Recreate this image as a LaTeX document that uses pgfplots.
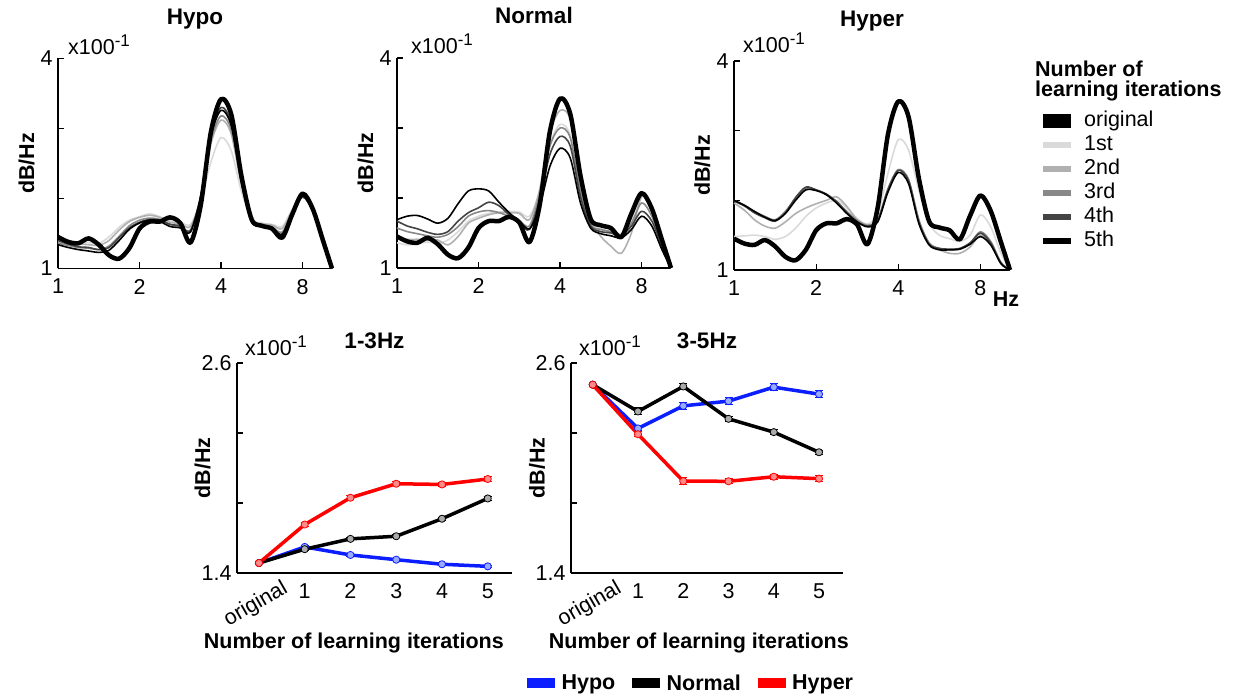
\documentclass[border=0pt]{standalone}
\usepackage{pgfplots}
\pgfplotsset{compat=1.18}
\usepackage{pgfplotstable}
\usepackage{fontspec}
\setmainfont{Liberation Sans}

\definecolor{itA}{HTML}{DADADA}
\definecolor{itB}{HTML}{B0B0B0}
\definecolor{itC}{HTML}{888888}
\definecolor{itD}{HTML}{444444}
\definecolor{hypoc}{HTML}{0A1EFF}
\definecolor{hyperc}{HTML}{FF0000}
\definecolor{hypof}{HTML}{9AAAFF}
\definecolor{hyperf}{HTML}{FF8A8A}
\definecolor{normf}{HTML}{AAAAAA}

\newcommand\fs{\fontsize{21.5}{24}\selectfont}
\newcommand\ft{\fontsize{22.5}{25}\selectfont}

\pgfplotstableread{
hz orig i1 i2 i3 i4 i5
1      1.45 1.37 1.38 1.36 1.40 1.34
1.0905 1.38 1.35 1.36 1.33 1.35 1.30
1.1892 1.36 1.36 1.35 1.30 1.31 1.27
1.2968 1.43 1.37 1.34 1.29 1.30 1.25
1.4142 1.34 1.36 1.33 1.27 1.27 1.23
1.5422 1.19 1.45 1.40 1.32 1.30 1.26
1.6818 1.14 1.59 1.55 1.46 1.44 1.40
1.8340 1.29 1.69 1.67 1.61 1.58 1.56
2      1.57 1.74 1.73 1.69 1.66 1.65
2.1810 1.67 1.78 1.76 1.72 1.70 1.69
2.3784 1.67 1.74 1.73 1.70 1.69 1.67
2.5937 1.73 1.68 1.66 1.63 1.63 1.60
2.8284 1.65 1.66 1.64 1.60 1.61 1.58
3.0844 1.37 1.63 1.60 1.55 1.54 1.52
3.3636 1.90 1.96 2.00 2.02 2.04 2.03
3.6680 2.95 2.52 2.78 2.83 2.92 2.89
4      3.42 2.87 3.12 3.18 3.30 3.26
4.3621 3.20 2.68 2.92 2.98 3.08 3.04
4.7568 2.32 2.10 2.19 2.22 2.26 2.24
5.1874 1.70 1.71 1.70 1.68 1.67 1.67
5.6569 1.61 1.65 1.64 1.62 1.60 1.60
6.1688 1.57 1.63 1.62 1.59 1.56 1.57
6.7272 1.44 1.60 1.57 1.52 1.47 1.49
7.3360 1.78 1.85 1.83 1.80 1.78 1.79
8      2.07 2.06 2.07 2.05 2.02 2.04
8.7241 1.85 1.85 1.86 1.84 1.82 1.83
9.5137 1.40 1.45 1.44 1.43 1.41 1.42
10.27  1.00 1.00 1.00 1.00 1.00 1.00
}\hypotab

\pgfplotstableread{
hz orig i1 i2 i3 i4 i5
1      1.45 1.36 1.45 1.57 1.67 1.69
1.0905 1.38 1.33 1.41 1.52 1.60 1.74
1.1892 1.36 1.35 1.41 1.49 1.56 1.75
1.2968 1.43 1.37 1.40 1.46 1.51 1.70
1.4142 1.34 1.35 1.40 1.44 1.48 1.64
1.5422 1.19 1.40 1.33 1.48 1.52 1.71
1.6818 1.14 1.52 1.45 1.59 1.67 1.92
1.8340 1.29 1.67 1.64 1.74 1.79 2.10
2      1.57 1.74 1.71 1.80 1.86 2.13
2.1810 1.67 1.78 1.76 1.82 1.94 2.10
2.3784 1.67 1.80 1.79 1.79 1.89 1.94
2.5937 1.73 1.81 1.79 1.74 1.76 1.79
2.8284 1.65 1.80 1.78 1.68 1.65 1.67
3.0844 1.37 1.74 1.69 1.60 1.55 1.56
3.3636 1.90 2.10 2.12 2.05 1.98 1.88
3.6680 2.95 2.76 2.93 2.74 2.62 2.45
4      3.42 3.05 3.25 3.00 2.88 2.71
4.3621 3.20 2.90 3.12 2.86 2.74 2.57
4.7568 2.32 2.14 2.26 2.10 2.02 1.93
5.1874 1.70 1.64 1.67 1.62 1.60 1.57
5.6569 1.61 1.56 1.45 1.55 1.52 1.49
6.1688 1.57 1.51 1.31 1.52 1.50 1.46
6.7272 1.44 1.45 1.21 1.48 1.46 1.43
7.3360 1.78 1.69 1.50 1.64 1.60 1.55
8      2.07 2.07 2.02 1.93 1.81 1.74
8.7241 1.85 1.88 1.86 1.74 1.67 1.60
9.5137 1.40 1.40 1.40 1.33 1.31 1.26
10.27  1.00 1.00 1.00 1.00 1.00 1.00
}\normtab

\pgfplotstableread{
hz orig i1 i2 i3 i4 i5
1      1.45 1.48 1.96 2.00 1.99 2.00
1.0905 1.38 1.49 1.86 1.93 1.92 1.93
1.1892 1.36 1.50 1.72 1.84 1.82 1.84
1.2968 1.43 1.48 1.63 1.77 1.75 1.76
1.4142 1.34 1.44 1.60 1.72 1.70 1.71
1.5422 1.19 1.48 1.69 1.84 1.82 1.81
1.6818 1.14 1.60 1.81 2.03 2.04 2.00
1.8340 1.29 1.77 1.89 2.17 2.19 2.15
2      1.57 1.89 1.95 2.15 2.15 2.14
2.1810 1.67 1.96 2.00 2.08 2.09 2.08
2.3784 1.67 2.00 2.05 1.98 1.98 1.96
2.5937 1.73 1.89 1.91 1.84 1.82 1.81
2.8284 1.65 1.74 1.72 1.71 1.69 1.69
3.0844 1.37 1.66 1.65 1.64 1.63 1.62
3.3636 1.90 1.81 1.72 1.72 1.71 1.69
3.6680 2.95 2.39 2.15 2.17 2.15 2.12
4      3.42 2.87 2.44 2.44 2.43 2.40
4.3621 3.20 2.72 2.29 2.30 2.28 2.24
4.7568 2.32 2.15 1.72 1.72 1.69 1.67
5.1874 1.70 1.67 1.38 1.39 1.37 1.36
5.6569 1.61 1.50 1.29 1.31 1.31 1.29
6.1688 1.57 1.45 1.24 1.29 1.30 1.29
6.7272 1.44 1.41 1.24 1.30 1.31 1.30
7.3360 1.78 1.50 1.33 1.38 1.39 1.37
8      2.07 1.79 1.50 1.55 1.53 1.48
8.7241 1.85 1.62 1.38 1.41 1.39 1.36
9.5137 1.40 1.24 1.10 1.11 1.10 1.09
10.27  1.00 1.00 1.00 1.00 1.00 1.00
}\hypertab

\pgfplotsset{
  mycommon/.style={
    scale only axis,
    axis x line*=bottom, axis y line*=left,
    tick align=inside, major tick length=6pt,
    axis line style={line width=1.2pt, black},
    tick style={line width=1.2pt, black},
    tick label style={font=\fs},
    xticklabel style={yshift=-7pt},
    yticklabel style={xshift=-2pt},
    label style={font=\fs\bfseries},
    title style={font=\ft\bfseries, at={(0.5,1)}, anchor=base},
    clip=false,
  },
  mytop/.style={
    mycommon,
    xmin=1, xmax=10.27, ymin=1, ymax=4,
    xtick={1,2,4,8}, xticklabels={1,2,4,8}, xminorticks=false,
    ytick={1,2,3,4}, yticklabels={1,,,4},
    ylabel={dB/Hz},
    ylabel style={at={(axis description cs:-0.115,0.5)}, anchor=center},
    title style={yshift=28pt},
  },
  mybot/.style={
    mycommon,
    xmin=-0.48, xmax=5.53, ymin=1.4, ymax=2.6,
    xtick={0,1,2,3,4,5}, xticklabels={,1,2,3,4,5},
    major x tick style={draw=none},
    ytick={1.4,1.8,2.2,2.6}, yticklabels={1.4,,,2.6},
    ylabel={dB/Hz},
    ylabel style={at={(axis description cs:-0.125,0.5)}, anchor=center},
    xlabel={Number of learning iterations},
    title style={yshift=8pt},
  },
}
\tikzset{
  mythin/.style={line width=1.6pt, smooth, line join=round},
  mythick/.style={line width=4.5pt, smooth, line join=round, black},
}

\begin{document}
\begin{tikzpicture}
\path[use as bounding box] (0,0) rectangle (1235pt,695pt);

% ---------------- Hypo
\begin{axis}[xmode=log, log basis x=2, mytop, width=274pt, height=210pt, at={(58pt,426.5pt)}, anchor=south west, title={Hypo}]
\addplot[mythin, itA, forget plot] table[x=hz,y=i1]{\hypotab};
\addplot[mythin, itB, forget plot] table[x=hz,y=i2]{\hypotab};
\addplot[mythin, itC, forget plot] table[x=hz,y=i3]{\hypotab};
\addplot[mythin, itD, forget plot] table[x=hz,y=i4]{\hypotab};
\addplot[mythin, black, forget plot] table[x=hz,y=i5]{\hypotab};
\addplot[mythick, forget plot] table[x=hz,y=orig]{\hypotab};
\node[anchor=base west, font=\fs, inner sep=0pt] at (rel axis cs:0,1) [xshift=10pt, yshift=4pt] {x100\raisebox{8pt}{\fontsize{17}{17}\selectfont -1}};
\end{axis}

% ---------------- Normal
\begin{axis}[xmode=log, log basis x=2, mytop, width=274pt, height=210pt, at={(397pt,427pt)}, anchor=south west, title={Normal}]
\addplot[mythin, itA, forget plot] table[x=hz,y=i1]{\normtab};
\addplot[mythin, itB, forget plot] table[x=hz,y=i2]{\normtab};
\addplot[mythin, itC, forget plot] table[x=hz,y=i3]{\normtab};
\addplot[mythin, itD, forget plot] table[x=hz,y=i4]{\normtab};
\addplot[mythin, black, forget plot] table[x=hz,y=i5]{\normtab};
\addplot[mythick, forget plot] table[x=hz,y=orig]{\normtab};
\node[anchor=base west, font=\fs, inner sep=0pt] at (rel axis cs:0,1) [xshift=14pt, yshift=4pt] {x100\raisebox{8pt}{\fontsize{17}{17}\selectfont -1}};
\end{axis}

% ---------------- Hyper
\begin{axis}[xmode=log, log basis x=2, mytop, width=276pt, height=209pt, at={(734pt,425pt)}, anchor=south west, title={Hyper},
  legend image code/.code={\draw[#1] (0pt,0pt) -- (28pt,0pt);},
  legend style={draw=none, fill=none, at={(1.094,0.765)}, anchor=north west, font=\fs,
    inner sep=0pt, row sep=3pt, nodes={inner sep=1pt, text height=15pt, text depth=4pt},
    /tikz/every odd column/.append style={column sep=5pt}},
  legend cell align=left]
\addplot[mythin, itA, forget plot] table[x=hz,y=i1]{\hypertab};
\addplot[mythin, itB, forget plot] table[x=hz,y=i2]{\hypertab};
\addplot[mythin, itC, forget plot] table[x=hz,y=i3]{\hypertab};
\addplot[mythin, itD, forget plot] table[x=hz,y=i4]{\hypertab};
\addplot[mythin, black, forget plot] table[x=hz,y=i5]{\hypertab};
\addplot[mythick, forget plot] table[x=hz,y=orig]{\hypertab};
\addlegendimage{line width=14pt, black}\addlegendentry{original}
\addlegendimage{line width=6pt, itA}\addlegendentry{1st}
\addlegendimage{line width=6pt, itB}\addlegendentry{2nd}
\addlegendimage{line width=6pt, itC}\addlegendentry{3rd}
\addlegendimage{line width=6pt, itD}\addlegendentry{4th}
\addlegendimage{line width=6pt, black}\addlegendentry{5th}
\node[anchor=base west, font=\fs, inner sep=0pt] at (rel axis cs:0,1) [xshift=9pt, yshift=8pt] {x100\raisebox{8pt}{\fontsize{17}{17}\selectfont -1}};
\node[font=\fs\bfseries] at (rel axis cs:1,0) [xshift=-4pt, yshift=-29pt] {Hz};
\end{axis}

\node[anchor=base west, font=\fs\bfseries, inner sep=0pt] at (1035pt,598pt) {learning iterations};
\node[anchor=base west, font=\fs\bfseries, inner sep=0pt] at (1035pt,618pt) {Number of};

% ---------------- 1-3Hz
\begin{axis}[mybot, width=275pt, height=210pt, at={(237pt,122pt)}, anchor=south west, title={1-3Hz},
  xlabel style={at={(axis description cs:0.425,-0.335)}, anchor=center}]
\addplot[hypoc, line width=3.5pt, line join=round, forget plot, mark=*, mark size=3.6pt,
  mark options={fill=hypof, draw=hypoc, line width=0.8pt},
  error bars/.cd, y dir=both, y explicit, error bar style={line width=1pt, hypoc},
  error mark options={rotate=90, mark size=4pt, line width=1pt, hypoc}]
  coordinates {(0,1.457) +- (0,0) (1,1.549) +- (0,0.006) (2,1.503) +- (0,0.006) (3,1.476) +- (0,0.006) (4,1.450) +- (0,0.006) (5,1.438) +- (0,0.007)};
\addplot[black, line width=3.5pt, line join=round, forget plot, mark=*, mark size=3.6pt,
  mark options={fill=normf, draw=black, line width=0.8pt},
  error bars/.cd, y dir=both, y explicit, error bar style={line width=1pt, black},
  error mark options={rotate=90, mark size=4pt, line width=1pt, black}]
  coordinates {(0,1.457) +- (0,0) (1,1.536) +- (0,0.006) (2,1.595) +- (0,0.008) (3,1.610) +- (0,0.008) (4,1.710) +- (0,0.009) (5,1.826) +- (0,0.011)};
\addplot[hyperc, line width=3.5pt, line join=round, forget plot, mark=*, mark size=3.6pt,
  mark options={fill=hyperf, draw=hyperc, line width=0.8pt},
  error bars/.cd, y dir=both, y explicit, error bar style={line width=1pt, hyperc},
  error mark options={rotate=90, mark size=4pt, line width=1pt, hyperc}]
  coordinates {(0,1.457) +- (0,0) (1,1.677) +- (0,0.010) (2,1.830) +- (0,0.010) (3,1.910) +- (0,0.012) (4,1.906) +- (0,0.012) (5,1.937) +- (0,0.012)};
\node[anchor=base west, font=\fs, inner sep=0pt] at (rel axis cs:0,1) [xshift=8pt, yshift=7pt] {x100\raisebox{8pt}{\fontsize{17}{17}\selectfont -1}};
\node[font=\fs, inner sep=0pt, xshift=22pt, yshift=-5pt, rotate=30, anchor=north east] at (axis cs:0,1.4) {original};
\end{axis}

% ---------------- 3-5Hz
\begin{axis}[mybot, width=272pt, height=210pt, at={(571pt,122pt)}, anchor=south west, title={3-5Hz},
  xlabel style={at={(axis description cs:0.47,-0.335)}, anchor=center},
  legend image code/.code={\fill[#1] (0pt,-4.5pt) rectangle (27pt,4.5pt);},
  legend columns=3,
  legend style={draw=none, fill=none, at={(-0.162,-0.524)}, anchor=west, font=\fs\bfseries,
    inner sep=0pt, nodes={inner sep=1pt},
    /tikz/every odd column/.append style={column sep=6pt},
    /tikz/every even column/.append style={column sep=16pt}}]
\addplot[hypoc, line width=3.5pt, line join=round, forget plot, mark=*, mark size=3.6pt,
  mark options={fill=hypof, draw=hypoc, line width=0.8pt},
  error bars/.cd, y dir=both, y explicit, error bar style={line width=1pt, hypoc},
  error mark options={rotate=90, mark size=4pt, line width=1pt, hypoc}]
  coordinates {(0,2.476) +- (0,0) (1,2.226) +- (0,0.012) (2,2.355) +- (0,0.020) (3,2.382) +- (0,0.018) (4,2.462) +- (0,0.020) (5,2.422) +- (0,0.018)};
\addplot[black, line width=3.5pt, line join=round, forget plot, mark=*, mark size=3.6pt,
  mark options={fill=normf, draw=black, line width=0.8pt},
  error bars/.cd, y dir=both, y explicit, error bar style={line width=1pt, black},
  error mark options={rotate=90, mark size=4pt, line width=1pt, black}]
  coordinates {(0,2.476) +- (0,0) (1,2.323) +- (0,0.020) (2,2.466) +- (0,0.015) (3,2.281) +- (0,0.015) (4,2.205) +- (0,0.013) (5,2.090) +- (0,0.012)};
\addplot[hyperc, line width=3.5pt, line join=round, forget plot, mark=*, mark size=3.6pt,
  mark options={fill=hyperf, draw=hyperc, line width=0.8pt},
  error bars/.cd, y dir=both, y explicit, error bar style={line width=1pt, hyperc},
  error mark options={rotate=90, mark size=4pt, line width=1pt, hyperc}]
  coordinates {(0,2.476) +- (0,0) (1,2.193) +- (0,0.015) (2,1.925) +- (0,0.020) (3,1.924) +- (0,0.015) (4,1.950) +- (0,0.015) (5,1.939) +- (0,0.017)};
\addlegendimage{hypoc}\addlegendentry{Hypo}
\addlegendimage{black}\addlegendentry{Normal}
\addlegendimage{hyperc}\addlegendentry{Hyper}
\node[anchor=base west, font=\fs, inner sep=0pt] at (rel axis cs:0,1) [xshift=8pt, yshift=7pt] {x100\raisebox{8pt}{\fontsize{17}{17}\selectfont -1}};
\node[font=\fs, inner sep=0pt, xshift=22pt, yshift=-5pt, rotate=30, anchor=north east] at (axis cs:0,1.4) {original};
\end{axis}
\end{tikzpicture}
\end{document}
